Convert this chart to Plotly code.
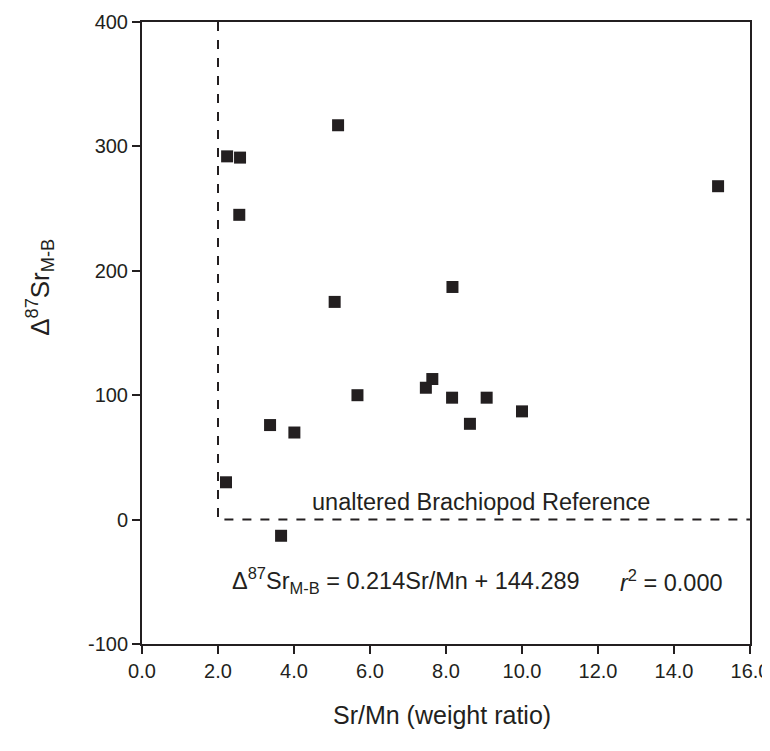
import plotly.graph_objects as go

sr_mn = [2.24, 2.58, 5.16, 2.56, 15.16, 5.07, 8.17, 5.67, 7.47, 7.64, 8.16, 9.07, 10.0, 8.63, 3.37, 4.01, 2.21, 3.66]
d87sr = [292, 291, 317, 245, 268, 175, 187, 100, 106, 113, 98, 98, 87, 77, 76, 70, 30, -13]

ref_x = [2.0, 2.0, 16.0]
ref_y = [400, 0, 0]

x_ticks = [0, 2, 4, 6, 8, 10, 12, 14, 16]
x_labels = ["0.0", "2.0", "4.0", "6.0", "8.0", "10.0", "12.0", "14.0", "16.0"]
y_ticks = [-100, 0, 100, 200, 300, 400]
y_labels = ["-100", "0", "100", "200", "300", "400"]

font = "Liberation Sans, Arial, sans-serif"
ink = "#231f20"

fig = go.Figure()
fig.add_trace(go.Scatter(x=ref_x, y=ref_y, mode="lines",
                         line=dict(color=ink, width=2, dash="dash"),
                         hoverinfo="skip", showlegend=False))
fig.add_trace(go.Scatter(x=sr_mn, y=d87sr, mode="markers",
                         marker=dict(symbol="square", size=12, color=ink,
                                     line=dict(width=0)),
                         showlegend=False))

annots = [
    dict(x=8.92, y=14.5, xref="x", yref="y", text="unaltered Brachiopod Reference",
         showarrow=False, xanchor="center", yanchor="middle",
         font=dict(family=font, size=23.5, color=ink)),
    dict(x=2.32, y=-49, xref="x", yref="y", xanchor="left", yanchor="middle",
         text="Δ<sup>87</sup>Sr<sub>M-B</sub> = 0.214Sr/Mn + 144.289",
         showarrow=False, font=dict(family=font, size=23.5, color=ink)),
    dict(x=15.35, y=-49, xref="x", yref="y", xanchor="right", yanchor="middle",
         text="<i>r</i><sup>2</sup> = 0.000",
         showarrow=False, font=dict(family=font, size=23.5, color=ink)),
    dict(x=-0.168, y=0.574, xref="paper", yref="paper", textangle=-90,
         xanchor="center", yanchor="middle",
         text="Δ<sup>87</sup>Sr<sub>M-B</sub>", showarrow=False,
         font=dict(family=font, size=26, color=ink)),
    dict(x=0.493, y=-0.114, xref="paper", yref="paper",
         xanchor="center", yanchor="middle",
         text="Sr/Mn (weight ratio)", showarrow=False,
         font=dict(family=font, size=25, color=ink)),
]

fig.update_layout(
    width=762, height=743,
    margin=dict(l=134, r=20, t=14, b=107, autoexpand=False),
    paper_bgcolor="white", plot_bgcolor="white",
    font=dict(family=font, color=ink),
    annotations=annots,
)
fig.update_xaxes(range=[0, 16], tickvals=x_ticks, ticktext=x_labels,
                 ticks="outside", ticklen=8, tickwidth=1.5, tickcolor=ink,
                 showline=True, linecolor=ink, linewidth=2, mirror=True,
                 showgrid=False, zeroline=False, automargin=False,
                 tickfont=dict(family=font, size=20, color=ink))
fig.update_yaxes(range=[-100, 400], tickvals=y_ticks, ticktext=y_labels,
                 ticks="outside", ticklen=8, tickwidth=1.5, tickcolor=ink,
                 showline=True, linecolor=ink, linewidth=2, mirror=True,
                 showgrid=False, zeroline=False, automargin=False,
                 tickfont=dict(family=font, size=20, color=ink))

fig.write_html("out.html")
